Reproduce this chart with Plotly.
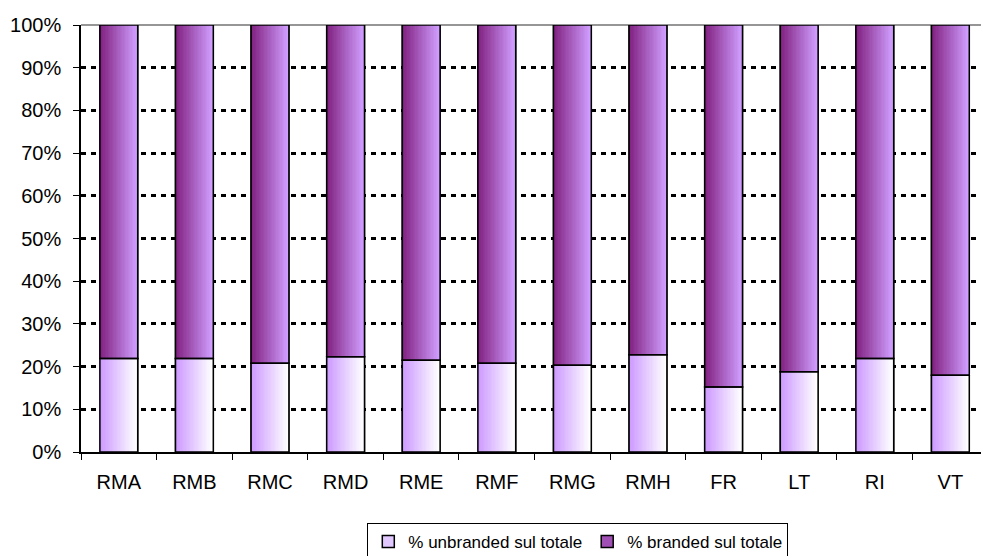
import plotly.graph_objects as go

categories = ["RMA", "RMB", "RMC", "RMD", "RME", "RMF", "RMG", "RMH", "FR", "LT", "RI", "VT"]
unbranded = [21.9, 21.9, 20.8, 22.3, 21.5, 20.8, 20.3, 22.8, 15.2, 18.8, 21.9, 18.0]
branded = [round(100 - u, 1) for u in unbranded]
series_names = ["% unbranded sul totale", "% branded sul totale"]
y_ticks = list(range(0, 101, 10))
y_tick_labels = ["%d%%" % v for v in y_ticks]

FONT = "Liberation Sans, Arial, sans-serif"
BAR_W = 0.5
N = 28

def lerp(c1, c2, t):
    return "rgb(%d,%d,%d)" % tuple(round(a + (b - a) * t) for a, b in zip(c1, c2))

grad_unbr = ((204, 153, 255), (255, 255, 255))
grad_br = ((128, 32, 128), (208, 158, 255))

fig = go.Figure()

# legend traces (hidden underneath gradient slices)
fig.add_trace(go.Bar(x=categories, y=unbranded, width=BAR_W, name=series_names[0],
                     marker=dict(color="rgb(225,200,255)", line=dict(color="black", width=1.5))))
fig.add_trace(go.Bar(x=categories, y=branded, base=unbranded, width=BAR_W, name=series_names[1],
                     marker=dict(color="rgb(160,80,180)", line=dict(color="black", width=1.5))))

# gradient slices (left -> right)
sw = BAR_W / N
for vals, base, grad in [(unbranded, None, grad_unbr), (branded, unbranded, grad_br)]:
    for i in range(N):
        t = i / (N - 1)
        fig.add_trace(go.Bar(x=categories, y=vals, base=base, width=sw * 1.15,
                             offset=-BAR_W / 2 + i * sw, showlegend=False, hoverinfo="skip",
                             marker=dict(color=lerp(grad[0], grad[1], t), line=dict(width=0))))

# outlines
fig.add_trace(go.Bar(x=categories, y=unbranded, width=BAR_W, showlegend=False, hoverinfo="skip",
                     marker=dict(color="rgba(0,0,0,0)", line=dict(color="black", width=1.5))))
fig.add_trace(go.Bar(x=categories, y=branded, base=unbranded, width=BAR_W, showlegend=False, hoverinfo="skip",
                     marker=dict(color="rgba(0,0,0,0)", line=dict(color="black", width=1.5))))

fig.update_layout(
    width=981, height=556,
    margin=dict(l=81, r=0, t=25, b=104, autoexpand=False),
    barmode="overlay",
    plot_bgcolor="white", paper_bgcolor="white",
    font=dict(family=FONT, size=20, color="black"),
    showlegend=True,
    legend=dict(orientation="h", x=0.552, xanchor="center", y=-0.166, yanchor="top",
                bordercolor="black", borderwidth=1, bgcolor="white",
                font=dict(size=17, family=FONT), traceorder="normal"),
    xaxis=dict(type="category", range=[-0.5, 11.405], showline=True, linecolor="black", linewidth=1.5,
               ticks="outside", ticklen=6, tickcolor="black", tickson="boundaries",
               showgrid=False, ticklabelstandoff=11, tickfont=dict(size=20), automargin=False),
    yaxis=dict(range=[0, 100], tickmode="array", tickvals=y_ticks, ticktext=y_tick_labels,
               showline=True, linecolor="black", linewidth=1.5, ticks="outside", ticklen=6,
               tickcolor="black", showgrid=True, gridcolor="black", gridwidth=2.5,
               griddash="5px,5px", zeroline=False, ticklabelstandoff=8, tickfont=dict(size=20),
               automargin=False),
    shapes=[dict(type="line", xref="paper", yref="paper", x0=0, x1=1, y0=1, y1=1,
                 line=dict(color="rgb(150,150,150)", width=2), layer="below")],
)

fig.write_html("out.html")
